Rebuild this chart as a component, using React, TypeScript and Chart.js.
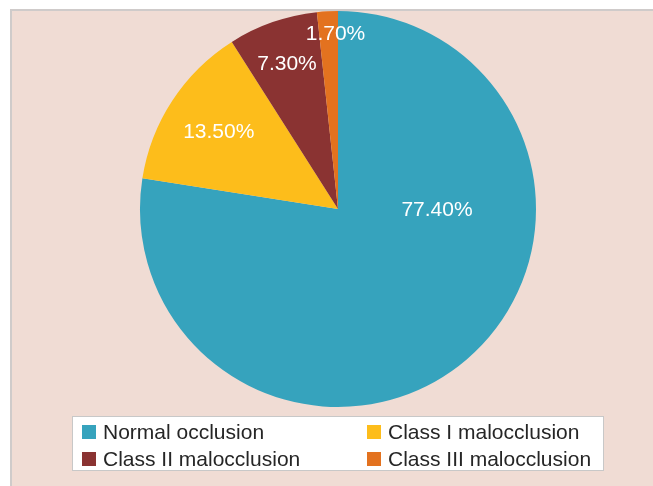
import React, { useEffect, useRef } from "react";
import { Chart, registerables } from "chart.js";

Chart.register(...registerables);

const categories = ["Normal occlusion", "Class I malocclusion", "Class II malocclusion", "Class III malocclusion"];
const percentages = [77.4, 13.5, 7.3, 1.7];
const sliceColors = ["#36A3BD", "#FDBD1B", "#8A3332", "#E3721F"];

const W = 653;
const H = 486;
const FONT = "'Liberation Sans', Arial, sans-serif";

const backgroundPlugin = {
  id: "panelBg",
  beforeDraw(chart: any) {
    const ctx = chart.ctx;
    ctx.save();
    ctx.fillStyle = "#ffffff";
    ctx.fillRect(0, 0, W, H);
    ctx.fillStyle = "#CFCBCA";
    ctx.fillRect(10, 9, W - 10, H - 9);
    ctx.fillStyle = "#F0DCD4";
    ctx.fillRect(12, 11, W - 12, H - 11);
    ctx.restore();
  },
};

const labelPlugin = {
  id: "sliceLabels",
  afterDatasetsDraw(chart: any, _args: any, opts: any) {
    const ctx = chart.ctx;
    const meta = chart.getDatasetMeta(0);
    const values = chart.data.datasets[0].data as number[];
    ctx.save();
    ctx.fillStyle = "#ffffff";
    ctx.font = `21px ${FONT}`;
    ctx.textAlign = "center";
    ctx.textBaseline = "middle";
    meta.data.forEach((arc: any, i: number) => {
      const p = arc.getProps(["x", "y", "startAngle", "endAngle", "outerRadius"], true);
      const mid = opts.angles[i] !== null ? opts.angles[i] : (p.startAngle + p.endAngle) / 2;
      const r = p.outerRadius * opts.fractions[i];
      const x = p.x + Math.cos(mid) * r;
      const y = p.y + Math.sin(mid) * r;
      ctx.fillText(values[i].toFixed(2) + "%", x, y + 1);
    });
    ctx.restore();
  },
};

const legendPlugin = {
  id: "boxLegend",
  afterDraw(chart: any, _args: any, opts: any) {
    const ctx = chart.ctx;
    const labels = chart.data.labels as string[];
    const colors = chart.data.datasets[0].backgroundColor as string[];
    ctx.save();
    ctx.fillStyle = "#ffffff";
    ctx.fillRect(opts.x, opts.y, opts.w, opts.h);
    ctx.strokeStyle = "#C8C8C8";
    ctx.lineWidth = 1;
    ctx.strokeRect(opts.x + 0.5, opts.y + 0.5, opts.w - 1, opts.h - 1);
    ctx.font = `21px ${FONT}`;
    ctx.textBaseline = "middle";
    ctx.textAlign = "left";
    labels.forEach((lab, i) => {
      const col = i % 2;
      const row = Math.floor(i / 2);
      const mx = opts.colX[col];
      const cy = opts.rowY[row];
      ctx.fillStyle = colors[i];
      ctx.fillRect(mx, cy - 7, 14, 14);
      ctx.fillStyle = "#262626";
      ctx.fillText(lab, mx + 21, cy + 1);
    });
    ctx.restore();
  },
};

export default function App() {
  const ref = useRef<HTMLCanvasElement>(null);
  useEffect(() => {
    if (!ref.current) return;
    const chart = new Chart(ref.current, {
      type: "pie",
      data: {
        labels: categories,
        datasets: [
          {
            data: percentages,
            backgroundColor: sliceColors,
            borderWidth: 0,
          },
        ],
      },
      options: {
        responsive: false,
        animation: false,
        layout: { padding: { top: 11, bottom: 79, left: 140, right: 117 } },
        plugins: {
          legend: { display: false },
          tooltip: { enabled: false },
          sliceLabels: { angles: [0, null, null, -1.585], fractions: [0.5, 0.72, 0.78, 0.89] },
          boxLegend: { x: 72, y: 416, w: 532, h: 55, colX: [82, 367], rowY: [432, 459] },
        } as any,
      },
      plugins: [backgroundPlugin, labelPlugin, legendPlugin],
    });
    return () => chart.destroy();
  }, []);
  return (
    <div style={{ position: "fixed", left: 0, top: 0, width: W, height: H }}>
      <canvas ref={ref} width={W} height={H} style={{ display: "block" }} />
    </div>
  );
}
